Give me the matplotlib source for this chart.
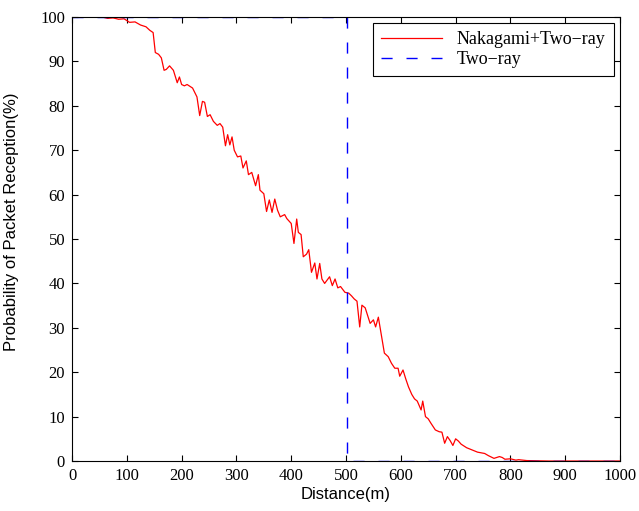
import numpy as np
import matplotlib.pyplot as plt

# Nakagami+Two-ray curve (distance in m, reception in %)
dist_nak = [0, 20, 40, 55, 65, 75, 85, 95, 105, 115, 125, 135, 142, 148, 152, 158, 163, 168,
            172, 178, 185, 192, 196, 200, 205, 210, 220, 228, 233, 238, 242, 247, 252, 258,
            265, 270, 275, 280, 284, 288, 292, 296, 302, 308, 312, 318, 322, 328, 335, 340,
            343, 350, 355, 360, 365, 370, 375, 380, 388, 392, 400, 405, 410, 413, 418, 422,
            428, 432, 437, 443, 447, 452, 456, 461, 470, 475, 480, 485, 490, 498, 505, 510,
            515, 520, 525, 529, 535, 544, 550, 554, 559, 565, 570, 577, 583, 589, 595, 598,
            604, 609, 614, 620, 625, 630, 637, 640, 645, 650, 655, 663, 670, 675, 680, 685,
            690, 695, 700, 705, 710, 720, 730, 740, 748, 753, 760, 770, 780, 785, 790, 800,
            810, 815, 830, 850, 870, 900, 950, 1000]
pct_nak = [100, 100, 100, 100, 99.7, 99.8, 99.5, 99.6, 98.8, 98.9, 98.2, 97.8, 97.0, 96.5,
           92.0, 91.6, 90.8, 88.0, 88.2, 89.0, 88.0, 85.2, 86.5, 84.8, 84.5, 84.8, 84.0, 82.0,
           77.8, 81.0, 80.8, 77.6, 78.0, 76.5, 75.6, 76.0, 75.2, 71.0, 73.5, 71.2, 73.0, 70.0,
           68.5, 68.7, 66.0, 67.6, 64.5, 65.0, 62.0, 64.5, 61.0, 60.2, 56.2, 58.8, 56.0, 59.0,
           56.5, 55.0, 55.5, 54.6, 53.5, 49.0, 54.5, 51.5, 51.0, 46.0, 46.6, 47.6, 42.5, 44.6,
           41.0, 44.5, 41.0, 40.0, 41.5, 39.5, 41.0, 39.0, 39.3, 38.0, 37.8, 37.2, 36.5, 36.0,
           30.2, 35.1, 34.5, 31.0, 31.8, 30.2, 32.4, 28.0, 24.3, 23.5, 22.0, 20.9, 20.9, 19.1,
           20.5, 18.5, 16.7, 15.0, 14.0, 13.5, 11.5, 13.5, 10.0, 9.5, 8.5, 7.0, 6.6, 6.5, 4.0,
           5.5, 4.6, 3.5, 5.0, 4.5, 3.8, 3.0, 2.5, 2.0, 1.8, 1.7, 1.2, 0.6, 1.0, 0.8, 0.4,
           0.5, 0.2, 0.3, 0.1, 0.05, 0.0, 0.0, 0.0, 0.0]

# Two-ray (deterministic) curve
dist_two = [0, 502, 502, 1000]
pct_two = [100, 100, 0, 0]

fig = plt.figure(figsize=(6.39, 5.11), dpi=100)
ax = fig.add_axes([0.1127, 0.0978, 0.8576, 0.8689])

ax.plot(dist_nak, pct_nak, color="red", lw=0.9, label="Nakagami+Two\u2212ray")
ax.plot(dist_two, pct_two, color="blue", lw=1.0, ls=(0, (8, 10)), label="Two\u2212ray")

ax.set_xlim(0, 1000)
ax.set_ylim(0, 100)
ax.set_xticks(np.arange(0, 1001, 100))
ax.set_yticks(np.arange(0, 101, 10))
ax.tick_params(direction="in", top=True, right=True, length=4, width=0.8, pad=5)
for lab in ax.get_xticklabels() + ax.get_yticklabels():
    lab.set_family("Liberation Serif")
    lab.set_fontsize(12)
for s in ax.spines.values():
    s.set_linewidth(0.8)

ax.set_xlabel("Distance(m)", family="Liberation Sans", fontsize=12, labelpad=2)
ax.set_ylabel("Probability of Packet Reception(%)", family="Liberation Sans", fontsize=12)
ax.yaxis.set_label_coords(-0.096, 0.538)

leg = ax.legend(loc="upper right", prop={"family": "Liberation Serif", "size": 13},
                fancybox=False, edgecolor="black", framealpha=1, handlelength=3.4,
                borderaxespad=0.35, labelspacing=0.15, borderpad=0.45)
leg.get_frame().set_linewidth(0.8)

fig.savefig("out.png", dpi=100)
